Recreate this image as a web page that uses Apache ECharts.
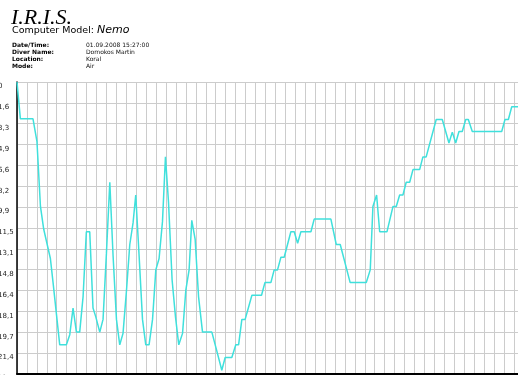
<!DOCTYPE html>
<html>
<head>
<meta charset="utf-8">
<script src="https://cdn.jsdelivr.net/npm/echarts@6/dist/echarts.min.js"></script>
<style>
  html, body { margin: 0; padding: 0; background: #fff; }
  #main { width: 518px; height: 375px; }
</style>
</head>
<body>
<div id="main"></div>
<script type="text/javascript">
// dive profile: time (min) and depth (m)
var timeMin = [0, 0.34, 1.61, 2.01, 2.36, 2.69, 3.36, 3.63, 4.3, 4.97,
  5.31, 5.64, 5.98, 6.31, 6.65, 6.98, 7.32, 7.65, 7.93, 8.33,
  8.66, 9.0, 9.34, 9.67, 10.01, 10.34, 10.67, 11.02, 11.35, 11.68,
  11.95, 12.29, 12.63, 12.96, 13.29, 13.64, 13.97, 14.3, 14.64, 14.94,
  15.25, 15.61, 15.95, 16.28, 16.66, 16.99, 17.32, 17.59, 17.93, 18.27,
  18.67, 19.61, 20.08, 20.61, 20.95, 21.62, 22.02, 22.3, 22.63, 22.96,
  23.64, 24.61, 24.95, 25.55, 25.88, 26.22, 26.56, 26.89, 27.56, 27.9,
  28.24, 28.57, 29.58, 29.91, 31.59, 32.13, 32.53, 33.53, 35.15, 35.55,
  35.82, 36.19, 36.5, 37.23, 37.84, 38.17, 38.51, 38.84, 39.17, 39.52,
  39.85, 40.52, 40.85, 41.18, 42.19, 42.8, 43.47, 43.81, 44.15, 44.48,
  44.81, 45.16, 45.42, 45.82, 48.78, 49.11, 49.45, 49.79, 50.42];
var depthM = [0, 2.9, 2.9, 4.7, 9.8, 11.6, 13.9, 15.8, 20.7, 20.7,
  19.9, 17.8, 19.7, 19.7, 16.9, 11.8, 11.8, 17.8, 18.5, 19.7,
  18.7, 13.5, 7.9, 13.7, 18.7, 20.7, 19.8, 16.4, 12.8, 11.1,
  8.9, 13.7, 18.7, 20.7, 20.7, 18.7, 14.8, 13.9, 11.0, 5.9,
  9.5, 15.6, 18.5, 20.7, 19.8, 16.4, 14.8, 10.9, 12.4, 16.9,
  19.7, 19.7, 21.1, 22.7, 21.7, 21.7, 20.7, 20.7, 18.7, 18.7,
  16.8, 16.8, 15.8, 15.8, 14.8, 14.8, 13.8, 13.8, 11.8, 11.8,
  12.7, 11.8, 11.8, 10.8, 10.8, 12.8, 12.8, 15.8, 15.8, 14.8,
  9.8, 8.9, 11.8, 11.8, 9.8, 9.8, 8.9, 8.9, 7.9, 7.9,
  6.9, 6.9, 5.9, 5.9, 2.95, 2.95, 4.8, 3.95, 4.8, 3.9,
  3.9, 2.95, 2.95, 3.9, 3.9, 2.95, 2.95, 1.95, 1.95];
var yTickLabels = ['0', '1,6', '3,3', '4,9', '6,6', '8,2', '9,9', '11,5',
  '13,1', '14,8', '16,4', '18,1', '19,7', '21,4', '23'];
var maxDepth = 23;
var yStep = maxDepth / 14;

var infoLabels = ['Date/Time:', 'Diver Name:', 'Location:', 'Mode:'];
var infoValues = ['01.09.2008 15:27:00', 'Domokos Martin', 'Koral', 'Air'];

var myChart = echarts.init(document.getElementById('main'));

var profile = [];
for (var i = 0; i < timeMin.length; i++) {
    profile.push([timeMin[i], depthM[i]]);
}

var headerTexts = [
    { type: 'text', left: 11, top: 7,
      style: { text: 'I.R.I.S.', font: 'italic 22px "Liberation Serif"', fill: '#000' } },
    { type: 'text', left: 12, top: 25,
      style: {
          text: '{a|Computer Model: }{b|Nemo}',
          rich: {
              a: { fontFamily: 'DejaVu Sans', fontSize: 9.5, fill: '#000', color: '#000' },
              b: { fontFamily: 'DejaVu Sans', fontStyle: 'italic', fontSize: 11, fill: '#000', color: '#000' }
          }
      } }
];
for (var k = 0; k < infoLabels.length; k++) {
    headerTexts.push({ type: 'text', left: 12, top: 42 + k * 7.2,
        style: { text: infoLabels[k], font: 'bold 6px "DejaVu Sans"', fill: '#000' } });
    headerTexts.push({ type: 'text', left: 86, top: 42 + k * 7.2,
        style: { text: infoValues[k], font: '6px "DejaVu Sans"', fill: '#111' } });
}

var option = {
    animation: false,
    backgroundColor: '#fff',
    graphic: headerTexts,
    grid: { left: 17, right: 0, top: 82, bottom: 1, containLabel: false, outerBoundsMode: 'none' },
    xAxis: {
        type: 'value',
        min: 0,
        max: 50.42,
        interval: 1,
        axisLine: { show: true, onZero: false, lineStyle: { color: '#000', width: 2 } },
        axisTick: { show: false },
        axisLabel: { show: false },
        splitLine: { show: true, lineStyle: { color: '#cccccc', width: 1 } }
    },
    yAxis: {
        type: 'value',
        inverse: true,
        min: 0,
        max: maxDepth,
        interval: yStep,
        axisLine: { show: true, lineStyle: { color: '#000', width: 1.5 } },
        axisTick: { show: false },
        axisLabel: {
            show: true,
            align: 'left',
            verticalAlign: 'top',
            margin: 19,
            padding: [1, 0, 0, 0],
            fontFamily: 'DejaVu Sans',
            fontSize: 7,
            color: '#222',
            formatter: function (v) {
                return yTickLabels[Math.round(v / yStep)];
            }
        },
        splitLine: { show: true, lineStyle: { color: '#cccccc', width: 1 } }
    },
    series: [{
        type: 'line',
        data: profile,
        showSymbol: false,
        lineStyle: { color: '#3fe0dc', width: 1.5 }
    }]
};

myChart.setOption(option);
</script>
</body>
</html>
